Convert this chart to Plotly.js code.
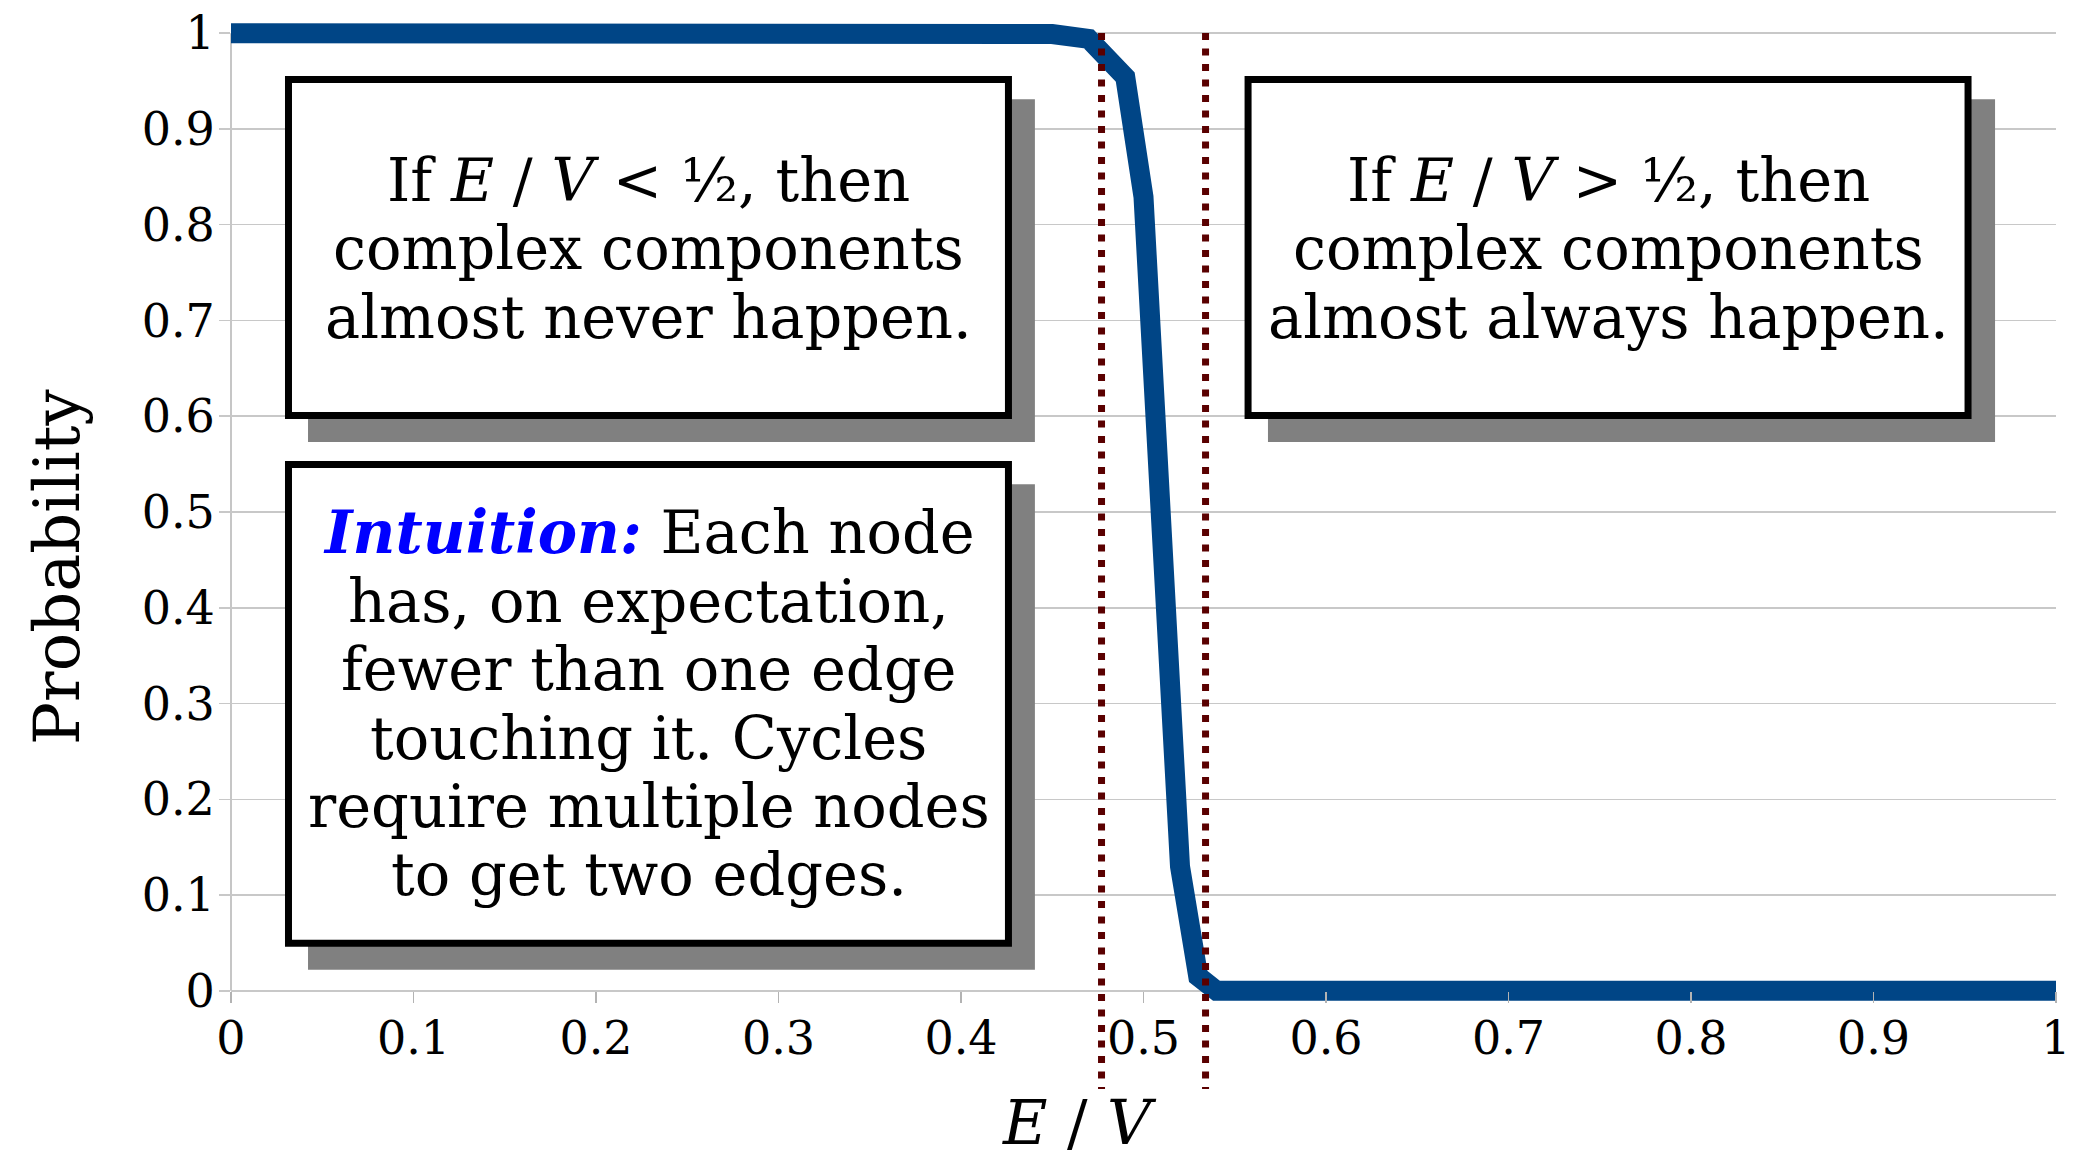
<!DOCTYPE html>
<html>
<head>
<meta charset="utf-8">
<script src="https://cdn.plot.ly/plotly-3.0.1.min.js"></script>
<style>
  html, body { margin: 0; padding: 0; background: #ffffff; }
  #chart { width: 2079px; height: 1160px; }
</style>
</head>
<body>
<div id="chart"></div>
<script>
// ---- Data ----
const ratioEV = [0, 0.1, 0.2, 0.3, 0.4, 0.43, 0.45, 0.47, 0.49, 0.50, 0.51, 0.52, 0.53, 0.54, 0.6, 0.7, 0.8, 0.9, 1.0];
const probability = [1, 1, 1, 1, 1, 1, 0.999, 0.994, 0.954, 0.829, 0.48, 0.13, 0.015, 0, 0, 0, 0, 0, 0];
const thresholds = [0.477, 0.534];
const xTickVals = [0, 0.1, 0.2, 0.3, 0.4, 0.5, 0.6, 0.7, 0.8, 0.9, 1];
const xTickText = ['0', '0.1', '0.2', '0.3', '0.4', '0.5', '0.6', '0.7', '0.8', '0.9', '1'];
const yTickVals = [0, 0.1, 0.2, 0.3, 0.4, 0.5, 0.6, 0.7, 0.8, 0.9, 1];
const yTickText = ['0', '0.1', '0.2', '0.3', '0.4', '0.5', '0.6', '0.7', '0.8', '0.9', '1'];

const boxLeftTopLines = [
  'If <i>E</i> / <i>V</i> &lt; ½, then',
  'complex components',
  'almost never happen.'
];
const boxRightTopLines = [
  'If <i>E</i> / <i>V</i> &gt; ½, then',
  'complex components',
  'almost always happen.'
];
const boxLeftBottomLines = [
  '<span style="color:#0000ff"><b><i>Intuition:</i></b></span> Each node',
  'has, on expectation,',
  'fewer than one edge',
  'touching it. Cycles',
  'require multiple nodes',
  'to get two edges.'
];

// ---- Layout helpers ----
const SERIF = 'DejaVu Serif, Liberation Serif, serif';
const BOX_FONT = 59;
// y range padded so the thick curve at 0 and 1 is not clipped; the pixel
// mapping of 0..1 stays at 991..33
const PAD = 0.02;
const MT = 14, MB = 150, H = 1160;
const plotH = H - MT - MB;
function paperY(py) { return (H - MB - py) / plotH; }

const shapes = [];
const annotations = [];

// axis lines
shapes.push({type: 'line', xref: 'paper', yref: 'y', x0: 0, x1: 1, y0: 0, y1: 0,
  line: {color: '#b3b3b3', width: 1.5}, layer: 'between'});
shapes.push({type: 'line', xref: 'paper', yref: 'y', x0: 0, x1: 0, y0: 0, y1: 1,
  line: {color: '#b3b3b3', width: 1.5}, layer: 'between'});

function addBox(x0, x1, y0, y1, sx0, sx1, sy0, sy1) {
  shapes.push({type: 'rect', xref: 'x', yref: 'y', x0: sx0, x1: sx1, y0: sy0, y1: sy1,
    fillcolor: '#808080', line: {width: 0}, layer: 'above'});
  shapes.push({type: 'rect', xref: 'x', yref: 'y', x0: x0, x1: x1, y0: y0, y1: y1,
    fillcolor: '#ffffff', line: {color: '#000000', width: 7}, layer: 'above'});
}
function addLines(lines, xc, ys) {
  lines.forEach((t, i) => {
    annotations.push({text: t, xref: 'x', yref: 'y', x: xc, y: ys[i],
      xanchor: 'center', yanchor: 'middle', showarrow: false,
      font: {family: SERIF, size: BOX_FONT, color: '#000000'}});
  });
}

// boxes (shadow then frame)
addBox(0.0315, 0.426, 0.9515, 0.6007, 0.0422, 0.4405, 0.931, 0.573);
addBox(0.0315, 0.426, 0.5496, 0.0496, 0.0422, 0.4405, 0.529, 0.0219);
addBox(0.5573, 0.9518, 0.9515, 0.6007, 0.5682, 0.9666, 0.931, 0.573);

addLines(boxLeftTopLines, 0.2288, [0.8466, 0.7756, 0.7035]);
addLines(boxRightTopLines, 0.7548, [0.8466, 0.7756, 0.7035]);
addLines(boxLeftBottomLines, 0.2288, [0.4781, 0.4067, 0.3353, 0.2639, 0.1925, 0.1211]);

// threshold dotted lines
thresholds.forEach(t => {
  shapes.push({type: 'line', xref: 'x', yref: 'paper', x0: t, x1: t, y0: paperY(33), y1: paperY(1089),
    line: {color: '#5a0000', width: 7, dash: '7px,8.5px'}, layer: 'above'});
});

// axis titles
annotations.push({text: 'Probability', xref: 'paper', yref: 'paper', x: (57 - 231) / 1825, y: paperY(567),
  xanchor: 'center', yanchor: 'middle', textangle: -90, showarrow: false,
  font: {family: SERIF, size: 64, color: '#000000'}});
annotations.push({text: '<i>E</i> / <i>V</i>', xref: 'paper', yref: 'paper', x: 0.4647, y: paperY(1122),
  xanchor: 'center', yanchor: 'middle', showarrow: false,
  font: {family: SERIF, size: 61, color: '#000000'}});

const trace = {
  x: ratioEV, y: probability, type: 'scatter', mode: 'lines',
  line: {color: '#004586', width: 20},
  cliponaxis: false, hoverinfo: 'skip', showlegend: false
};

const layout = {
  width: 2079, height: H,
  margin: {l: 231, r: 23, t: MT, b: MB},
  paper_bgcolor: '#ffffff', plot_bgcolor: '#ffffff',
  showlegend: false,
  xaxis: {
    range: [0, 1], tickvals: xTickVals, ticktext: xTickText,
    anchor: 'free', position: PAD / (1 + 2 * PAD),
    showgrid: false, zeroline: false, showline: false,
    ticks: 'outside', ticklen: 11, tickwidth: 1.5, tickcolor: '#b3b3b3',
    tickfont: {family: SERIF, size: 46, color: '#000000'},
    ticklabelstandoff: -4
  },
  yaxis: {
    range: [-PAD, 1 + PAD], tickvals: yTickVals, ticktext: yTickText,
    showgrid: true, gridcolor: '#c8c8c8', gridwidth: 1.5, zeroline: false,
    showline: false,
    ticks: 'outside', ticklen: 11, tickwidth: 1.5, tickcolor: '#c8c8c8',
    tickfont: {family: SERIF, size: 46, color: '#000000'},
    ticklabelstandoff: -5
  },
  shapes: shapes,
  annotations: annotations
};

Plotly.newPlot('chart', [trace], layout, {staticPlot: true, displayModeBar: false});
</script>
</body>
</html>
